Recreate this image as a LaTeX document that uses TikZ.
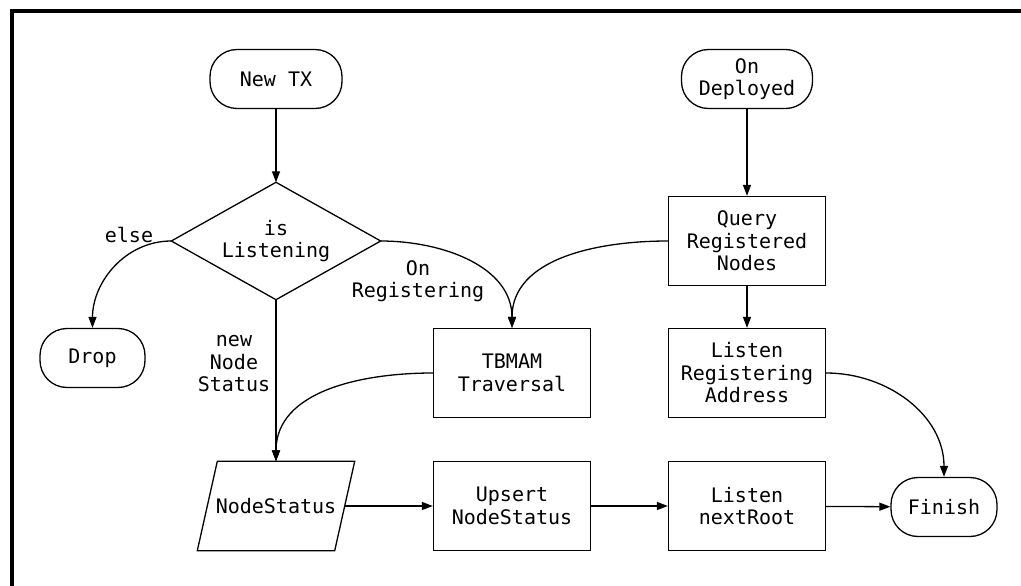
\documentclass[tikz,border=0pt]{standalone}
\usepackage{fontspec}
\newfontfamily\dmono{DejaVu Sans Mono}
\usetikzlibrary{arrows.meta,calc}
\tikzset{
  txt/.style={font=\dmono\fontsize{20}{22.5}\selectfont, align=center, inner sep=0pt},
  procbox/.style={txt, draw, line width=1.3pt, minimum width=157pt, minimum height=89pt},
  termbox/.style={txt, draw, line width=1.3pt, rounded corners=27pt, minimum height=59pt},
  ghost/.style={txt, draw=none},
  conn/.style={line width=1.3pt, -{Triangle[length=11pt,width=8pt]}},
  shapeline/.style={line width=1.3pt},
}
\begin{document}
\begin{tikzpicture}[x=1pt,y=-1pt]
\useasboundingbox (0,0) rectangle (1021,586);
\draw[line width=4pt] (11.5,586) -- (11.5,11.5) -- (1021,11.5);

% terminals
\node[termbox, minimum width=132pt] (newtx) at (276,79) {New TX};
\node[termbox, minimum width=131pt] (ondep) at (747,79) {On\\Deployed};
\node[termbox, minimum width=105pt] (drop) at (92.5,358) {Drop};
\node[termbox, minimum width=106pt] (finish) at (944,507) {Finish};

% decision
\node[ghost, minimum width=209pt, minimum height=117pt] (dec) at (276,241) {is\\Listening};
\draw[shapeline] (dec.north) -- (dec.east) -- (dec.south) -- (dec.west) -- cycle;

% processes
\node[procbox] (query) at (747,241) {Query\\Registered\\Nodes};
\node[procbox] (tbmam) at (512,373) {TBMAM\\Traversal};
\node[procbox] (lra) at (747,373) {Listen\\Registering\\Address};
\node[procbox] (upsert) at (512,506) {Upsert\\NodeStatus};
\node[procbox] (lnr) at (747,506) {Listen\\nextRoot};

% data (parallelogram)
\node[ghost, minimum width=137pt, minimum height=89pt] (ns) at (276,506) {NodeStatus};
\draw[shapeline] ($(ns.north west)+(10,0)$) -- ($(ns.north east)+(10,0)$)
  -- ($(ns.south east)+(-10,0)$) -- ($(ns.south west)+(-10,0)$) -- cycle;

% labels
\node[txt] (lelse) at (129,235) {else};
\node[txt] (lonreg) at (418,281) {On\\Registering};
\node[txt] (lnew) at (234,364) {new\\Node\\Status};

% connectors
\draw[conn] (newtx) -- (dec.north);
\draw[conn] (dec.west) to[out=180,in=90] (drop.north);
\draw[conn] (dec.south) -- (ns.north);
\draw[conn] (dec.east) to[out=0,in=90] (tbmam.north);
\draw[conn] (query.west) to[out=180,in=90] (tbmam.north);
\draw[conn] (tbmam.west) to[out=180,in=90] (ns.north);
\draw[conn] (ondep) -- (query);
\draw[conn] (query) -- (lra);
\draw[conn] (lra.east) to[out=0,in=90] (finish.north);
\draw[conn] (ns.east) -- (upsert.west);
\draw[conn] (upsert) -- (lnr);
\draw[conn] (lnr) -- (finish);
\end{tikzpicture}
\end{document}
